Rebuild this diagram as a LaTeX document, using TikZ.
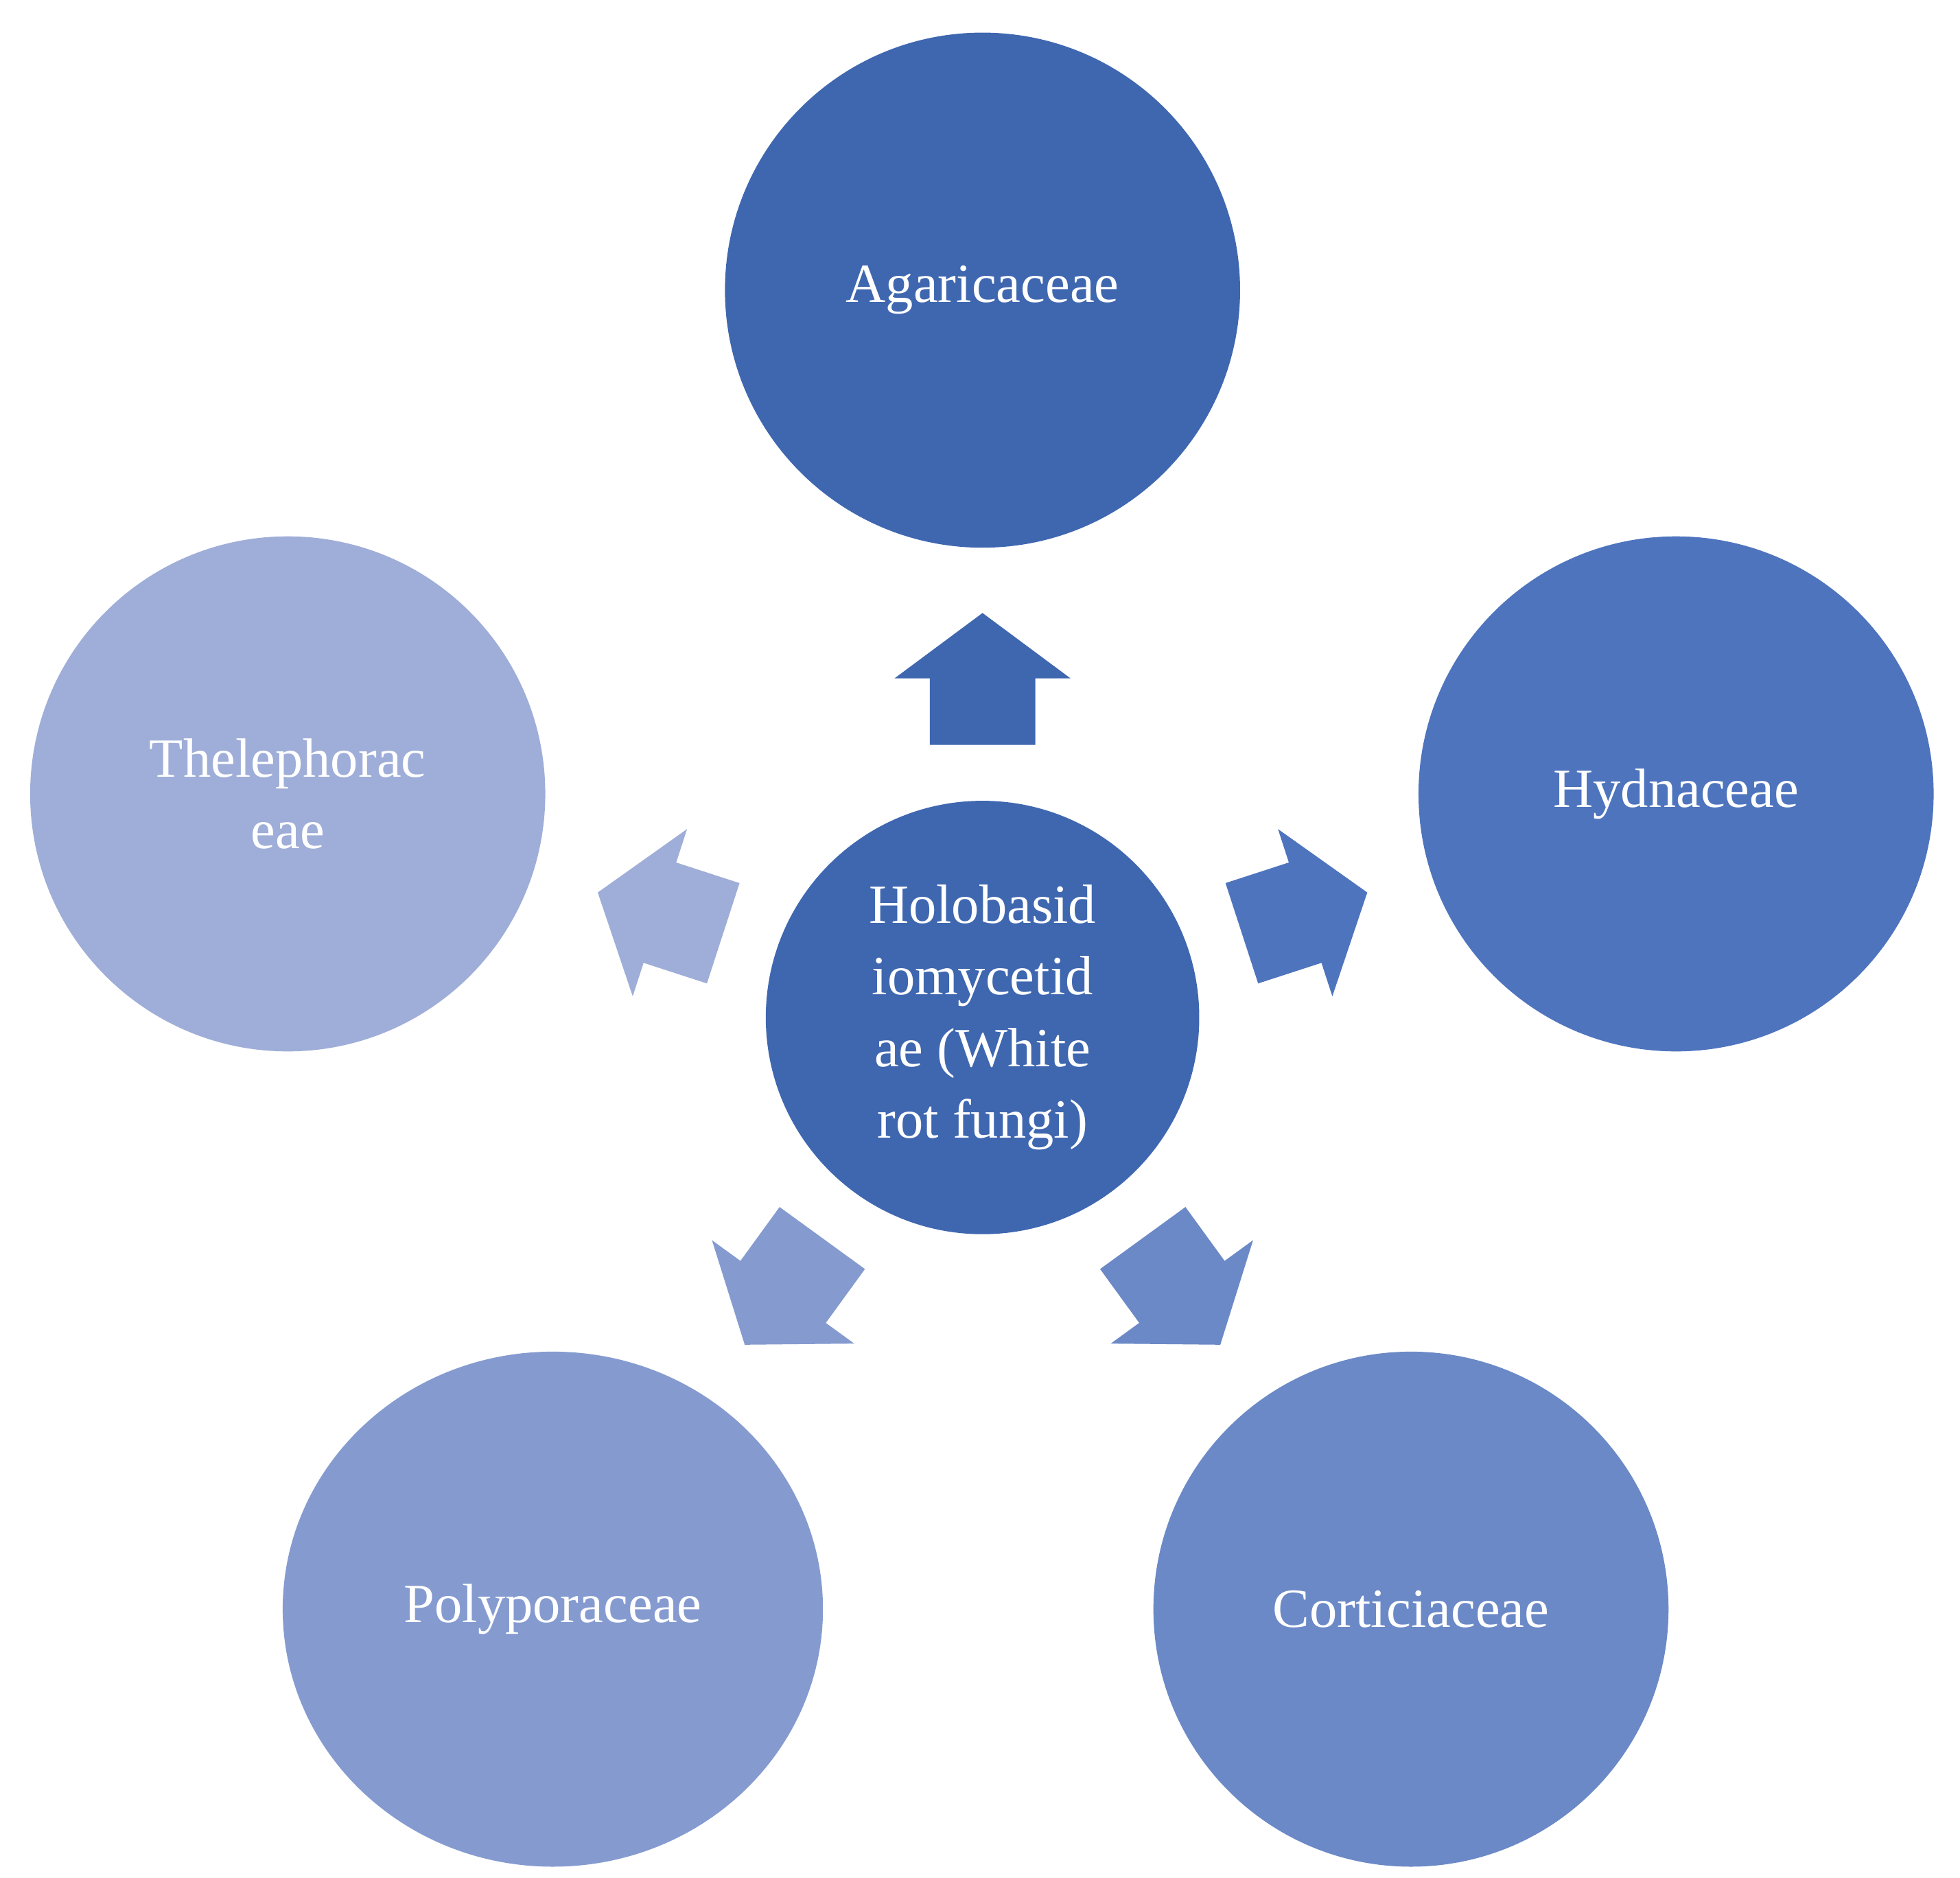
\documentclass[tikz,border=0pt]{standalone}
\usepackage{fontspec}
\usetikzlibrary{shapes.geometric}
\setmainfont{Liberation Serif}
\begin{document}
\begin{tikzpicture}[x=1pt,y=1pt,
  circ/.style={circle,inner sep=0,minimum size=410,text=white,align=center,font=\fontsize{44}{57}\selectfont}]
\useasboundingbox (0,0) rectangle (1560,1495);
\definecolor{c1}{HTML}{3F67B0}
\definecolor{c2}{HTML}{4E74BE}
\definecolor{c3}{HTML}{6B89C6}
\definecolor{c4}{HTML}{859BD0}
\definecolor{c5}{HTML}{9FAED8}
\node[circ,fill=c1,minimum size=345] (hub) at (782,685) {Holobasid\\iomycetid\\ae (White\\rot fungi)};
\node[circ,fill=c1] (aga) at (782,1264) {Agaricaceae};
\node[circ,fill=c2] (hyd) at (1334,863) {Hydnaceae};
\node[circ,fill=c5] (the) at (229,863) {Thelephorac\\eae};
\node[circ,fill=c4,ellipse,minimum width=430,minimum height=410] (pol) at (440,214) {Polyporaceae};
\node[circ,fill=c3] (cor) at (1123,214) {Corticiaceae};
\foreach \a/\c in {90/c1,18/c2,-54/c3,-126/c4,162/c5}{
  \begin{scope}[shift={(hub.center)},rotate=\a-90]
    \fill[\c] (-42,217) -- (42,217) -- (42,270) -- (70,270) -- (0,322) -- (-70,270) -- (-42,270) -- cycle;
  \end{scope}}
\end{tikzpicture}
\end{document}
